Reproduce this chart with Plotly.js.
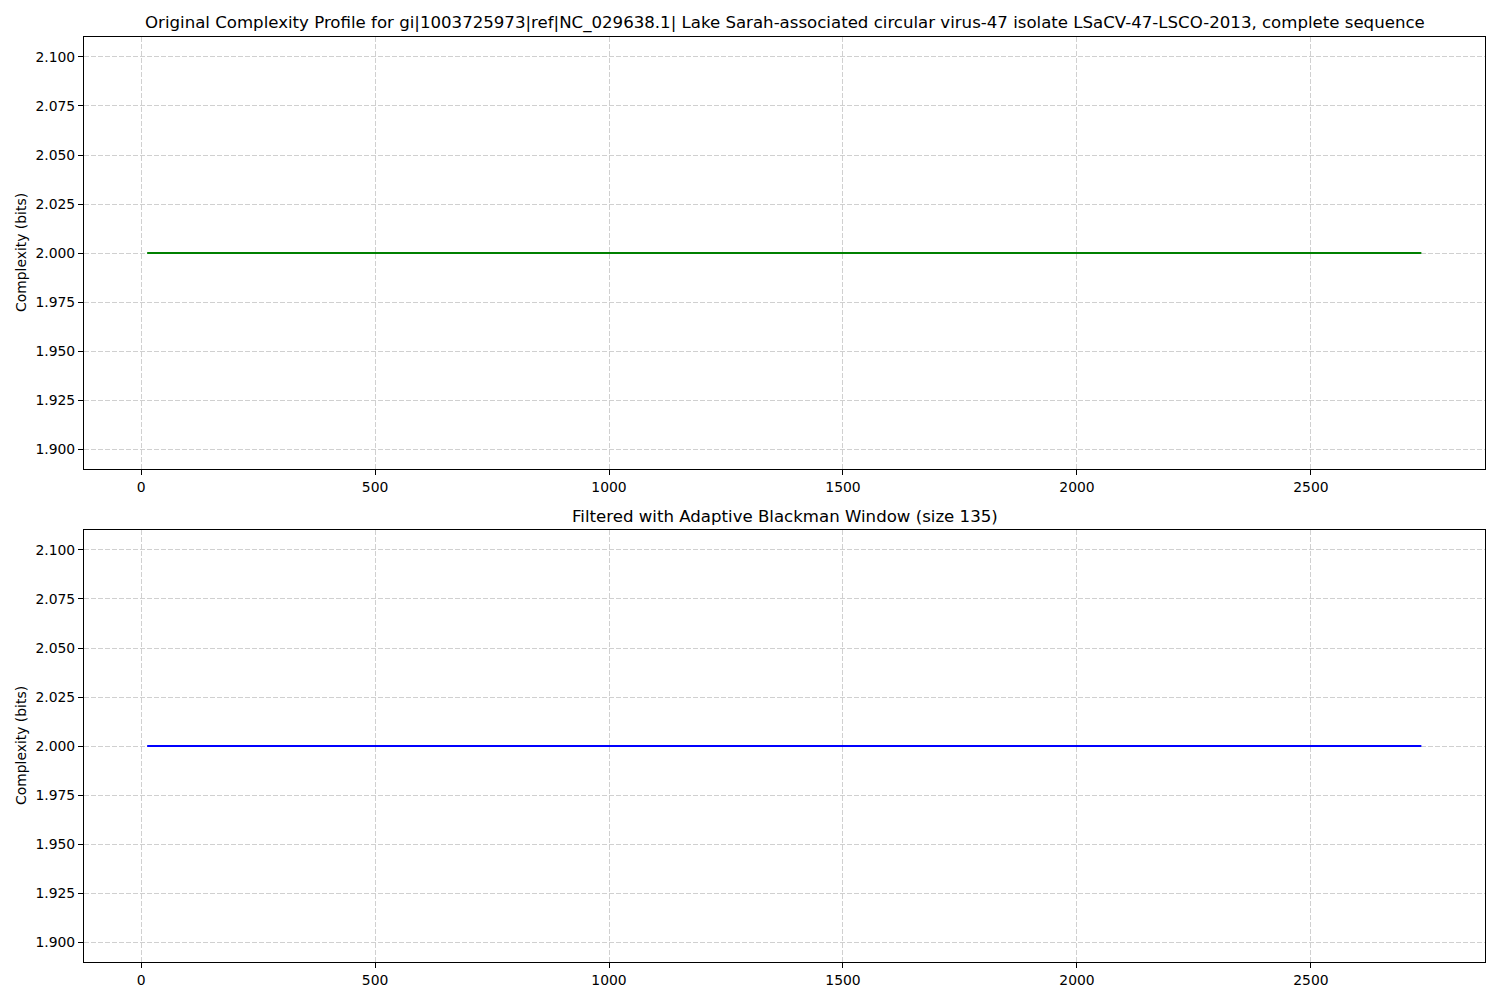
<!DOCTYPE html>
<html>
<head>
<meta charset="utf-8">
<script src="https://cdn.plot.ly/plotly-3.0.1.min.js"></script>
<style>html,body{margin:0;padding:0;background:#fff;}#chart{width:1500px;height:1000px;}</style>
</head>
<body>
<div id="chart"></div>
<script>
// Data
const positions = [13, 500, 1000, 1500, 2000, 2500, 2736];
const originalComplexity = [2.0, 2.0, 2.0, 2.0, 2.0, 2.0, 2.0];
const filteredComplexity = [2.0, 2.0, 2.0, 2.0, 2.0, 2.0, 2.0];
const topTitle = "Original Complexity Profile for gi|1003725973|ref|NC_029638.1| Lake Sarah-associated circular virus-47 isolate LSaCV-47-LSCO-2013, complete sequence";
const bottomTitle = "Filtered with Adaptive Blackman Window (size 135)";
const yLabel = "Complexity (bits)";

const W = 1500, H = 1000;
const font = {family: "DejaVu Sans", size: 13.9, color: "#000"};

function xAxis(anchor) {
  return {
    domain: [84 / W, 1485 / W], anchor: anchor,
    range: [-122, 2872], dtick: 500, tick0: 0,
    showgrid: true, gridcolor: "#d0d0d0", griddash: "5px,2px", gridwidth: 1,
    zeroline: false, showline: true, linecolor: "#000", linewidth: 1, mirror: true,
    ticks: "outside", ticklen: 5, tickcolor: "#000", tickwidth: 1,
    tickfont: font
  };
}
function yAxis(anchor, top, bottom) {
  return {
    domain: [1 - bottom / H, 1 - top / H], anchor: anchor,
    range: [1.8898, 2.1102], dtick: 0.025, tick0: 1.9, tickformat: ".3f",
    showgrid: true, gridcolor: "#d0d0d0", griddash: "5px,2px", gridwidth: 1,
    zeroline: false, showline: true, linecolor: "#000", linewidth: 1, mirror: true,
    ticks: "outside", ticklen: 5, tickcolor: "#000", tickwidth: 1,
    tickfont: font
  };
}

const traces = [
  {x: positions, y: originalComplexity, type: "scatter", mode: "lines",
   line: {color: "#008000", width: 2}, xaxis: "x", yaxis: "y", showlegend: false},
  {x: positions, y: filteredComplexity, type: "scatter", mode: "lines",
   line: {color: "#0000ff", width: 2}, xaxis: "x2", yaxis: "y2", showlegend: false}
];

const layout = {
  width: W, height: H,
  margin: {l: 0, r: 0, t: 0, b: 0},
  paper_bgcolor: "#fff", plot_bgcolor: "#fff",
  font: font,
  xaxis: xAxis("y"),
  yaxis: yAxis("x", 37, 469),
  xaxis2: xAxis("y2"),
  yaxis2: yAxis("x2", 530, 962),
  annotations: [
    {text: topTitle, xref: "paper", yref: "paper", x: 784.5 / W, y: 1 - 23 / H,
     xanchor: "center", yanchor: "middle", showarrow: false,
     font: {family: "DejaVu Sans", size: 16.6, color: "#000"}},
    {text: bottomTitle, xref: "paper", yref: "paper", x: 784.5 / W, y: 1 - 516 / H,
     xanchor: "center", yanchor: "middle", showarrow: false,
     font: {family: "DejaVu Sans", size: 16.6, color: "#000"}},
    {text: yLabel, xref: "paper", yref: "paper", x: 21 / W, y: 1 - 253 / H,
     xanchor: "center", yanchor: "middle", textangle: -90, showarrow: false, font: font},
    {text: yLabel, xref: "paper", yref: "paper", x: 21 / W, y: 1 - 746 / H,
     xanchor: "center", yanchor: "middle", textangle: -90, showarrow: false, font: font}
  ]
};

Plotly.newPlot("chart", traces, layout, {displayModeBar: false, staticPlot: true});
</script>
</body>
</html>
